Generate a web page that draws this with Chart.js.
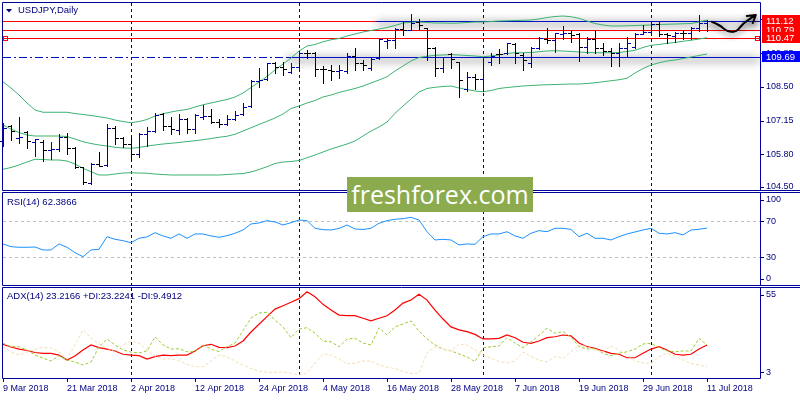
<!DOCTYPE html>
<html>
<head>
<meta charset="utf-8">
<script src="https://cdn.jsdelivr.net/npm/chart.js@4.4.1/dist/chart.umd.min.js"></script>
<style>
    html, body { margin: 0; padding: 0; background: #fff; }
    #wrap { position: relative; width: 800px; height: 400px; overflow: hidden; }
    canvas { position: absolute; left: 0; }
    #mainChart { top: 0; }
    #rsiChart { top: 190px; }
    #adxChart { top: 286px; }
    #logo {
        position: absolute; left: 347px; top: 177px; width: 186px; height: 35px;
        background: #8cab4f; color: #fff; font: 25px "Open Sans", sans-serif;
        line-height: 34px; text-align: center; z-index: 2;
    }
</style>
</head>
<body>
<div id="wrap">
    <canvas id="mainChart" width="800" height="191"></canvas>
    <canvas id="rsiChart" width="800" height="96"></canvas>
    <canvas id="adxChart" width="800" height="114"></canvas>
    <div id="logo">freshforex.com</div>
</div>
<script>
// USDJPY daily, 9 Mar 2018 .. 11 Jul 2018 (89 bars)
const dateTicks = ["9 Mar 2018", "21 Mar 2018", "2 Apr 2018", "12 Apr 2018", "24 Apr 2018", "4 May 2018",
    "16 May 2018", "28 May 2018", "7 Jun 2018", "19 Jun 2018", "29 Jun 2018", "11 Jul 2018"];
const TICK_STEP = 8;                 // one date label every 8 bars
const monthStarts = [16, 37, 60, 81]; // 2 Apr, 1 May, 1 Jun, 2 Jul

const openPrices = [
    106.34, 106.95, 106.46, 106.71, 106.31, 106.31, 105.98, 106.01, 106.51, 106.05,
    105.29, 104.67, 105.41, 105.37, 106.87, 106.47, 106.22, 105.82, 106.62, 106.75,
    107.42, 106.94, 106.78, 107.22, 106.81, 107.30, 107.34, 107.11, 107.02, 107.21,
    107.41, 107.74, 108.74, 108.83, 109.45, 109.31, 109.11, 109.31, 109.87, 109.87,
    109.22, 109.18, 109.14, 109.15, 109.74, 109.45, 109.25, 109.65, 110.34, 110.38,
    110.81, 110.78, 111.11, 110.85, 110.07, 109.25, 109.81, 109.50, 108.41, 108.89,
    108.81, 109.51, 109.82, 109.85, 110.22, 109.78, 109.45, 110.05, 110.41, 110.38,
    110.62, 110.67, 110.61, 110.09, 110.41, 110.05, 109.95, 109.85, 110.05, 110.11,
    110.62, 110.71, 111.02, 110.61, 110.54, 110.67, 110.65, 110.85, 111.05];
const highPrices = [
    107.07, 106.98, 107.30, 106.75, 106.42, 106.38, 106.31, 106.62, 106.67, 106.09,
    105.31, 105.45, 105.91, 107.02, 106.94, 106.51, 106.45, 106.65, 106.89, 107.47,
    107.47, 107.31, 107.41, 107.25, 107.41, 107.78, 107.61, 107.21, 107.38, 107.55,
    107.85, 108.78, 109.25, 109.47, 109.51, 109.51, 109.45, 109.91, 109.98, 109.91,
    109.34, 109.38, 109.38, 109.85, 110.05, 109.58, 109.65, 110.41, 110.41, 110.85,
    111.11, 111.42, 111.21, 110.85, 110.09, 109.71, 109.87, 109.51, 109.11, 109.02,
    109.69, 109.87, 110.01, 110.27, 110.27, 109.85, 110.11, 110.49, 110.85, 110.67,
    110.94, 110.78, 110.65, 110.49, 110.78, 110.27, 110.05, 110.25, 110.49, 110.67,
    110.98, 111.15, 111.15, 110.65, 110.71, 110.78, 110.89, 111.38, 111.18];
const lowPrices = [
    106.14, 106.38, 106.26, 106.05, 105.75, 105.55, 105.62, 105.95, 105.82, 105.25,
    104.62, 104.62, 105.34, 105.34, 106.22, 106.11, 105.58, 105.69, 106.12, 106.71,
    106.78, 106.62, 106.62, 106.65, 106.67, 107.21, 107.05, 106.89, 106.98, 107.18,
    107.38, 107.69, 108.51, 108.78, 109.05, 108.98, 109.05, 109.18, 109.65, 108.94,
    108.65, 108.78, 108.85, 109.05, 109.18, 109.18, 109.18, 109.61, 110.05, 110.05,
    110.58, 110.78, 110.81, 109.58, 108.94, 109.11, 109.25, 108.09, 108.35, 108.41,
    108.35, 109.38, 109.47, 109.82, 109.47, 109.18, 109.31, 110.01, 110.27, 109.91,
    110.41, 110.31, 109.55, 109.85, 109.85, 109.78, 109.34, 109.34, 109.71, 110.05,
    110.61, 110.65, 110.54, 110.27, 110.31, 110.41, 110.41, 110.75, 110.75];
const closePrices = [
    106.86, 106.75, 106.50, 106.34, 106.40, 105.98, 106.01, 106.51, 106.05, 105.29,
    104.69, 105.41, 105.35, 106.87, 106.45, 106.21, 105.81, 106.62, 106.75, 107.38,
    106.94, 106.81, 107.21, 106.81, 107.37, 107.35, 107.11, 107.02, 107.21, 107.38,
    107.69, 108.74, 108.78, 109.45, 109.31, 109.21, 109.31, 109.87, 109.85, 109.22,
    109.21, 109.14, 109.18, 109.74, 109.45, 109.38, 109.61, 110.41, 110.38, 110.81,
    110.78, 111.07, 110.98, 110.07, 109.25, 109.69, 109.61, 108.78, 108.91, 108.81,
    109.69, 109.74, 109.81, 110.25, 109.85, 109.58, 110.05, 110.45, 110.38, 110.65,
    110.65, 110.58, 110.09, 110.41, 110.05, 109.95, 109.85, 110.05, 110.27, 110.61,
    110.71, 111.02, 110.61, 110.58, 110.65, 110.65, 110.85, 111.05, 111.15];

// Bollinger Bands (20)
const bbUpper = [
    108.71, 108.46, 108.18, 107.86, 107.58, 107.49, 107.49, 107.49, 107.49, 107.44,
    107.40, 107.36, 107.31, 107.26, 107.18, 107.12, 107.07, 107.12, 107.20, 107.34,
    107.43, 107.50, 107.56, 107.60, 107.70, 107.79, 107.86, 107.93, 108.00, 108.10,
    108.26, 108.48, 108.70, 108.92, 109.18, 109.42, 109.66, 109.94, 110.14, 110.20,
    110.31, 110.39, 110.44, 110.54, 110.62, 110.70, 110.76, 110.82, 110.88, 110.96,
    111.06, 111.09, 111.10, 111.08, 111.06, 111.06, 111.05, 111.06, 111.08, 111.10,
    111.10, 111.12, 111.14, 111.15, 111.16, 111.17, 111.18, 111.22, 111.28, 111.32,
    111.34, 111.31, 111.25, 111.14, 111.04, 110.98, 110.94, 110.94, 110.95, 110.96,
    110.97, 110.98, 111.00, 111.01, 111.02, 111.03, 111.04, 111.10, 111.18];
const bbMiddle = [
    106.98, 106.82, 106.68, 106.58, 106.54, 106.54, 106.54, 106.54, 106.52, 106.42,
    106.31, 106.24, 106.18, 106.14, 106.09, 106.06, 106.05, 106.08, 106.14, 106.18,
    106.22, 106.25, 106.28, 106.32, 106.35, 106.39, 106.44, 106.49, 106.53, 106.61,
    106.74, 106.87, 107.00, 107.13, 107.26, 107.42, 107.64, 107.74, 107.86, 107.96,
    108.10, 108.18, 108.28, 108.36, 108.44, 108.54, 108.66, 108.78, 108.91, 109.14,
    109.34, 109.54, 109.68, 109.73, 109.77, 109.78, 109.80, 109.78, 109.76, 109.74,
    109.71, 109.74, 109.78, 109.84, 109.87, 109.87, 109.88, 109.91, 109.94, 109.95,
    109.94, 109.92, 109.90, 109.88, 109.87, 109.87, 109.87, 109.88, 109.92, 109.97,
    110.08, 110.17, 110.20, 110.25, 110.28, 110.33, 110.37, 110.42, 110.47];
const bbLower = [
    105.21, 105.28, 105.38, 105.50, 105.61, 105.60, 105.58, 105.58, 105.54, 105.42,
    105.25, 105.11, 104.98, 104.98, 105.02, 105.06, 105.07, 105.06, 105.05, 105.02,
    105.00, 104.98, 104.98, 104.98, 104.98, 104.98, 104.98, 104.98, 105.00, 105.02,
    105.04, 105.10, 105.20, 105.31, 105.44, 105.50, 105.52, 105.56, 105.67, 105.78,
    105.90, 106.02, 106.12, 106.22, 106.34, 106.54, 106.74, 106.90, 107.10, 107.45,
    107.74, 108.02, 108.30, 108.44, 108.49, 108.52, 108.54, 108.46, 108.40, 108.34,
    108.31, 108.36, 108.44, 108.48, 108.51, 108.54, 108.56, 108.58, 108.59, 108.60,
    108.61, 108.62, 108.62, 108.64, 108.67, 108.71, 108.75, 108.79, 108.85, 109.06,
    109.24, 109.38, 109.47, 109.54, 109.58, 109.64, 109.70, 109.76, 109.82];

const rsiValues = [
    44.8, 41.8, 41.1, 41.1, 41.4, 38.1, 38.1, 44.8, 41.1, 35.1,
    30.7, 38.1, 38.9, 52.9, 50.0, 48.4, 46.2, 51.1, 52.6, 57.3,
    53.7, 51.1, 55.9, 51.1, 55.9, 55.9, 53.7, 52.2, 54.0, 56.7,
    60.3, 67.0, 68.1, 70.7, 69.2, 65.9, 68.4, 71.4, 70.7, 62.2,
    60.7, 60.3, 62.0, 65.9, 61.4, 60.9, 62.2, 67.8, 70.7, 72.2,
    72.9, 74.4, 71.4, 58.4, 49.2, 50.0, 49.2, 43.7, 44.8, 44.4,
    52.9, 55.9, 55.9, 58.4, 53.7, 51.1, 56.7, 59.6, 58.4, 62.2,
    62.2, 60.9, 52.9, 56.7, 51.1, 51.1, 49.2, 52.9, 55.9, 58.1,
    60.3, 62.2, 56.7, 55.9, 57.3, 54.8, 60.3, 61.1, 62.39];
const rsiLevels = [70, 30];

const adxValues = [
    23.6, 21.9, 20.6, 19.7, 18.4, 17.9, 17.9, 16.8, 13.7, 16.2,
    20.0, 23.2, 21.5, 20.6, 19.4, 17.3, 16.8, 16.4, 14.3, 15.8,
    16.8, 16.4, 16.8, 16.8, 19.4, 22.7, 23.6, 21.7, 21.5, 22.5,
    25.7, 31.4, 36.3, 41.1, 45.9, 48.0, 50.2, 52.5, 56.9, 53.7,
    48.9, 45.3, 42.1, 41.7, 41.7, 40.1, 38.4, 40.1, 41.7, 45.3,
    49.7, 51.6, 55.3, 51.6, 45.3, 39.6, 34.6, 32.7, 31.6, 29.9,
    27.0, 27.0, 27.4, 29.5, 27.8, 24.9, 24.2, 25.7, 27.8, 28.4,
    29.5, 29.0, 24.4, 22.1, 21.1, 19.4, 17.9, 17.3, 15.1, 15.1,
    17.9, 20.6, 22.1, 20.0, 17.3, 16.8, 17.3, 20.6, 23.22];
const plusDi = [
    24.2, 22.1, 22.1, 20.0, 16.8, 14.9, 13.0, 16.4, 13.7, 12.4,
    10.5, 12.4, 21.9, 27.0, 23.2, 20.0, 18.7, 18.1, 19.4, 28.4,
    23.2, 20.6, 20.8, 18.9, 18.9, 23.2, 20.6, 18.9, 22.1, 24.4,
    32.2, 40.3, 43.4, 43.9, 39.0, 34.6, 27.8, 33.3, 34.1, 30.6,
    25.7, 25.2, 22.1, 27.0, 27.4, 24.4, 23.2, 34.1, 29.5, 34.6,
    36.5, 38.4, 32.0, 27.0, 23.2, 20.6, 19.4, 17.5, 15.6, 12.6,
    21.3, 22.1, 22.5, 27.8, 24.4, 21.5, 25.1, 29.3, 33.7, 30.6,
    31.6, 28.2, 22.1, 20.6, 21.1, 17.9, 16.4, 17.9, 18.9, 20.6,
    23.8, 24.2, 21.5, 19.4, 18.9, 19.4, 19.4, 27.4, 23.22];
const minusDi = [
    22.1, 18.7, 16.8, 18.7, 20.6, 21.5, 21.3, 18.7, 14.3, 23.2,
    32.7, 27.6, 23.8, 21.3, 18.7, 23.2, 25.7, 24.4, 20.0, 16.2,
    14.3, 14.5, 13.0, 10.9, 9.4, 9.4, 13.0, 16.8, 15.6, 13.0,
    10.5, 8.4, 6.7, 5.9, 5.9, 6.1, 5.2, 4.2, 5.4, 11.8,
    17.5, 16.8, 14.3, 11.3, 11.6, 13.0, 13.0, 10.5, 9.2, 8.2,
    6.5, 5.2, 5.2, 18.1, 22.0, 20.6, 19.4, 23.8, 23.2, 20.0,
    16.8, 14.9, 12.6, 11.8, 13.0, 18.7, 15.8, 13.7, 12.4, 15.8,
    14.9, 18.7, 23.2, 22.1, 20.0, 18.9, 22.5, 20.0, 16.8, 13.2,
    11.8, 11.6, 15.8, 17.9, 16.2, 13.7, 11.6, 10.5, 9.49];

// price axis and drawn objects
const priceTicks = [111.20, 109.85, 108.50, 107.15, 105.80, 104.50];
const rsiTicks = [100, 70, 30, 0];
const adxTicks = [55, 3];
const redLevels = [111.12, 110.79, 110.47];
const supportLevel = 109.69;
const channelEdges = [{ price: 111.12, from: 46.7 }, { price: 109.69, from: 35.4 }];
const forecastPath = [[88.6, 111.11], [89.6, 110.98], [90.5, 110.71], [91.7, 110.70], [92.5, 111.05], [94.1, 111.38]];

const NAVY = "#000080";
const FRAME = "#00009a";
const FONT = '"Liberation Sans", Arial, sans-serif';
const X_MAX = 94.625;   // 8 px per bar, right part of the plot left empty (chart shift)
const W = 800;

const crisp = (v) => Math.round(v) + 0.5;
const xy = (arr) => arr.map((v, i) => ({ x: i, y: v }));

const hLine = (ctx, y, x0, x1) => {
    ctx.beginPath(); ctx.moveTo(x0, y); ctx.lineTo(x1, y); ctx.stroke();
};

// frame, month separators, right scale labels and caption of one pane
const makePane = (cfg) => ({
    id: "pane",
    beforeDatasetsDraw(chart) {
        const { ctx, chartArea: a, scales: { x, y } } = chart;
        ctx.save();
        ctx.lineWidth = 1;
        ctx.strokeStyle = FRAME;
        ctx.setLineDash([3, 3]);
        monthStarts.forEach(i => {
            const px = crisp(x.getPixelForValue(i));
            ctx.beginPath(); ctx.moveTo(px, a.top); ctx.lineTo(px, a.bottom); ctx.stroke();
        });
        ctx.strokeStyle = "#c0c0c0";
        (cfg.levels || []).forEach(v => hLine(ctx, crisp(y.getPixelForValue(v)), a.left, a.right));
        ctx.restore();
    },
    afterDraw(chart) {
        const { ctx, chartArea: a, scales: { y } } = chart;
        const L = a.left - 0.5, R = a.right + 0.5, T = a.top - 0.5, B = a.bottom + 0.5;
        ctx.save();
        ctx.strokeStyle = FRAME;
        ctx.lineWidth = 1;
        hLine(ctx, T, L, cfg.fullTop ? W : R);
        hLine(ctx, B, L, cfg.fullBottom ? W : R);
        ctx.beginPath(); ctx.moveTo(L, T); ctx.lineTo(L, B); ctx.moveTo(R, T); ctx.lineTo(R, B); ctx.stroke();

        ctx.fillStyle = NAVY;
        ctx.font = `9px ${FONT}`;
        ctx.textAlign = "left";
        ctx.textBaseline = "middle";
        cfg.ticks.forEach(v => {
            let py = y.getPixelForValue(v);
            py = Math.min(Math.max(py, a.top + cfg.clamp), a.bottom - cfg.clamp);
            ctx.fillRect(a.right + 1, Math.round(py), 3, 1);
            ctx.fillText(v.toFixed(cfg.decimals), 766, py);
        });

        ctx.font = `9.5px ${FONT}`;
        let cx = 7;
        if (cfg.marker) {
            ctx.beginPath();
            ctx.moveTo(6, a.top + 6); ctx.lineTo(12, a.top + 6); ctx.lineTo(9, a.top + 9.5);
            ctx.closePath(); ctx.fill();
            cx = 18;
        }
        ctx.fillText(cfg.caption, cx, a.top + cfg.captionDy);
        ctx.restore();
    }
});

// OHLC bars, levels, tags and the forecast arrow of the price pane
const priceObjects = {
    id: "priceObjects",
    beforeDatasetsDraw(chart) {
        const { ctx, chartArea: a, scales: { x, y } } = chart;
        ctx.save();
        ctx.lineWidth = 1;
        ctx.strokeStyle = "#0010c8";
        ctx.setLineDash([8, 3, 2, 3]);
        hLine(ctx, crisp(y.getPixelForValue(supportLevel)), a.left, a.right);
        ctx.setLineDash([]);
        ctx.strokeStyle = "#ff0000";
        redLevels.forEach(p => hLine(ctx, crisp(y.getPixelForValue(p)), a.left, a.right));

        // channel edges carry a soft grey shadow
        ctx.shadowColor = "rgba(0,0,0,0.85)";
        ctx.shadowBlur = 10;
        ctx.shadowOffsetY = 2;
        ctx.strokeStyle = "#0010c8";
        channelEdges.forEach(e => {
            const py = crisp(y.getPixelForValue(e.price));
            const x0 = x.getPixelForValue(e.from);
            hLine(ctx, py, x0, a.right);
            hLine(ctx, py, x0, a.right);
        });
        ctx.restore();
    },
    afterDatasetsDraw(chart) {
        const { ctx, chartArea: a, scales: { x, y } } = chart;
        ctx.save();
        for (let i = 0; i < openPrices.length; i++) {
            const px = Math.round(x.getPixelForValue(i));
            const yH = Math.round(y.getPixelForValue(highPrices[i]));
            const yL = Math.round(y.getPixelForValue(lowPrices[i]));
            const yO = Math.round(y.getPixelForValue(openPrices[i]));
            const yC = Math.round(y.getPixelForValue(closePrices[i]));
            ctx.fillStyle = closePrices[i] >= openPrices[i] ? "#0000a8" : "#000000";
            ctx.fillRect(px, yH, 1, yL - yH + 1);
            ctx.fillRect(px - 3, yO, 3, 1);
            ctx.fillRect(px + 1, yC, 3, 1);
        }

        // selected line handles
        const yS = crisp(y.getPixelForValue(redLevels[2]));
        ctx.strokeStyle = "#ff0000";
        ctx.lineWidth = 1;
        ctx.strokeRect(a.left + 0.5, yS - 2, 4, 4);
        ctx.strokeRect(a.right - 4.5, yS - 2, 4, 4);

        // hand drawn forecast
        const pts = forecastPath.map(([i, p]) => [x.getPixelForValue(i), y.getPixelForValue(p)]);
        ctx.shadowColor = "rgba(0,0,0,0.6)";
        ctx.shadowBlur = 6;
        ctx.shadowOffsetY = 3;
        ctx.strokeStyle = "#000";
        ctx.lineWidth = 2;
        ctx.lineCap = "round";
        ctx.lineJoin = "round";
        ctx.beginPath();
        ctx.moveTo(pts[0][0], pts[0][1]);
        for (let k = 1; k < pts.length - 1; k++) {
            const mx = (pts[k][0] + pts[k + 1][0]) / 2, my = (pts[k][1] + pts[k + 1][1]) / 2;
            ctx.quadraticCurveTo(pts[k][0], pts[k][1], mx, my);
        }
        const tip = pts[pts.length - 1];
        ctx.lineTo(tip[0], tip[1]);
        ctx.moveTo(tip[0] - 9, tip[1] + 1);
        ctx.lineTo(tip[0], tip[1]);
        ctx.lineTo(tip[0] - 3, tip[1] + 8);
        ctx.stroke();
        ctx.restore();
    },
    afterDraw(chart) {
        const { ctx, scales: { y } } = chart;
        const tags = redLevels.map(p => ({ price: p, color: "#ff0000" })).concat([{ price: supportLevel, color: "#0000ff" }]);
        ctx.save();
        ctx.font = `9.5px ${FONT}`;
        ctx.textAlign = "left";
        ctx.textBaseline = "middle";
        tags.forEach(t => {
            const py = Math.round(y.getPixelForValue(t.price));
            ctx.fillStyle = t.color;
            ctx.fillRect(762, py - 6, 38, 11);
            ctx.fillStyle = "#fff";
            ctx.fillText(t.price.toFixed(2), 766, py);
        });
        ctx.restore();
    }
};

const baseOptions = (yMin, yMax, padding) => ({
    responsive: false,
    animation: false,
    events: [],
    layout: { padding },
    plugins: { legend: { display: false }, tooltip: { enabled: false } },
    elements: { point: { radius: 0 }, line: { tension: 0, borderWidth: 1 } },
    scales: {
        x: { type: "linear", min: 0, max: X_MAX, display: false },
        y: { type: "linear", min: yMin, max: yMax, display: false }
    }
});

const lineSet = (data, color, extra = {}) => Object.assign({ type: "line", data: xy(data), borderColor: color, fill: false }, extra);

// PRICE PANE
new Chart(document.getElementById("mainChart"), {
    type: "line",
    data: {
        datasets: [
            lineSet(bbUpper, "#3cb371"),
            lineSet(bbMiddle, "#3cb371"),
            lineSet(bbLower, "#3cb371")
        ]
    },
    options: baseOptions(104.38, 111.86, { top: 3, left: 3, right: 40, bottom: 1 }),
    plugins: [makePane({ ticks: priceTicks, decimals: 2, clamp: 0, caption: "USDJPY,Daily", marker: true, captionDy: 7.7, fullBottom: true }), priceObjects]
});

// RSI PANE
new Chart(document.getElementById("rsiChart"), {
    type: "line",
    data: { datasets: [lineSet(rsiValues, "#1e90ff")] },
    options: baseOptions(-0.8, 101.4, { top: 3, left: 3, right: 40, bottom: 1 }),
    plugins: [makePane({ ticks: rsiTicks, decimals: 0, clamp: 6.5, levels: rsiLevels, caption: "RSI(14) 62.3866", captionDy: 9, fullTop: true, fullBottom: true })]
});

// ADX PANE
const adxOptions = baseOptions(2.28, 59.24, { top: 2, left: 3, right: 40, bottom: 0 });
adxOptions.scales.x = {
    type: "linear", min: 0, max: X_MAX, display: true,
    afterBuildTicks: (s) => { s.ticks = dateTicks.map((_, k) => ({ value: k * TICK_STEP })); },
    afterFit: (s) => { s.height = 22; },
    border: { display: false },
    grid: { drawOnChartArea: false, drawTicks: true, tickLength: 4, color: FRAME },
    ticks: {
        autoSkip: false, maxRotation: 0, minRotation: 0, align: "start", padding: 1,
        color: NAVY, font: { family: FONT, size: 9 },
        callback: (v) => dateTicks[Math.round(v / TICK_STEP)]
    }
};

new Chart(document.getElementById("adxChart"), {
    type: "line",
    data: {
        datasets: [
            lineSet(minusDi, "#f5deb3", { borderDash: [3, 2] }),
            lineSet(plusDi, "#9acd32", { borderDash: [3, 2] }),
            lineSet(adxValues, "#ff0000", { borderWidth: 1.2 })
        ]
    },
    options: adxOptions,
    plugins: [makePane({ ticks: adxTicks, decimals: 0, clamp: 5.7, caption: "ADX(14) 23.2166 +DI:23.2241 -DI:9.4912", captionDy: 8.7, fullTop: true })]
});
</script>
</body>
</html>
